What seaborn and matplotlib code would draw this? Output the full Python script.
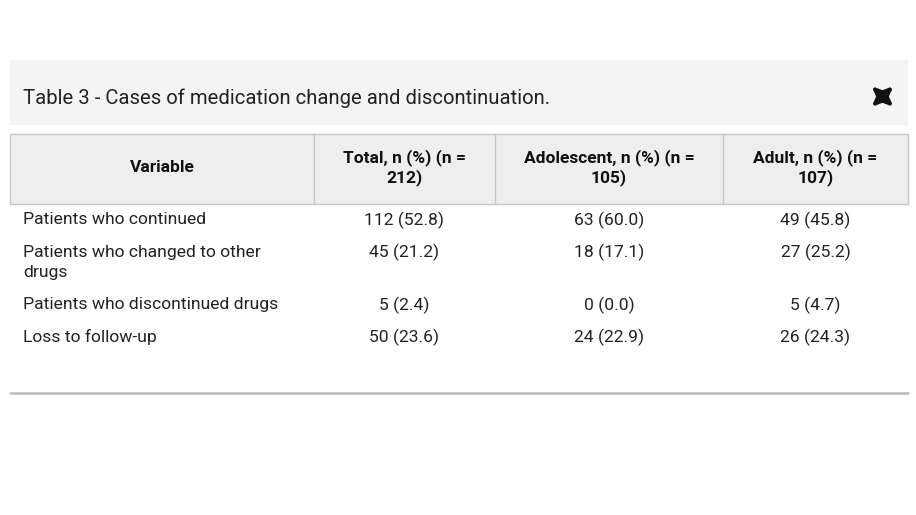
import matplotlib
matplotlib.use("Agg")
import matplotlib.pyplot as plt
import matplotlib.patches as mpatches
import seaborn as sns

sns.set_theme(style="white")
plt.rcParams["font.family"] = ["Roboto", "DejaVu Sans"]

TITLE = "Table 3 - Cases of medication change and discontinuation."
HEADERS = ["Variable", "Total, n (%) (n =\n212)", "Adolescent, n (%) (n =\n105)", "Adult, n (%) (n =\n107)"]
VARIABLES = ["Patients who continued", "Patients who changed to other\ndrugs",
             "Patients who discontinued drugs", "Loss to follow-up"]
TOTAL = ["112 (52.8)", "45 (21.2)", "5 (2.4)", "50 (23.6)"]
ADOLESCENT = ["63 (60.0)", "18 (17.1)", "0 (0.0)", "24 (22.9)"]
ADULT = ["49 (45.8)", "27 (25.2)", "5 (4.7)", "26 (24.3)"]

# layout in pixel units
COL_EDGES = [10, 314, 495, 723, 908]
ROW_Y = [220, 252, 305, 337]
LINE_GAP = 20
TEXT_C = "#222222"
BODY_FS = 12.6

fig = plt.figure(figsize=(9.16, 5.15), dpi=100)
ax = fig.add_axes([0, 0, 1, 1])
ax.set_xlim(0, 916)
ax.set_ylim(515, 0)
ax.axis("off")

# title band
ax.add_patch(mpatches.Rectangle((10, 60), 898, 65, facecolor="#f4f4f4", edgecolor="none"))
ax.text(23, 98, TITLE, fontsize=14.6, color=TEXT_C, va="center", ha="left")

# expand icon: four arrows pointing to the corners
cx, cy = 882.5, 96.5
for dx, dy in [(-11, -10.5), (11, -10.5), (-11, 10.5), (11, 10.5)]:
    ax.annotate("", xy=(cx + dx, cy + dy), xytext=(cx, cy),
                arrowprops=dict(arrowstyle="-|>,head_length=0.5,head_width=0.21",
                                color="#111111", lw=2.8, shrinkA=0, shrinkB=0,
                                mutation_scale=10))

# header row
ax.add_patch(mpatches.Rectangle((10, 134), 898, 70, facecolor="#eeeeee",
                                edgecolor="#c6c6c6", lw=1))
for x in COL_EDGES[1:-1]:
    ax.plot([x, x], [134, 204], color="#c6c6c6", lw=1)
for i, h in enumerate(HEADERS):
    hx = (COL_EDGES[i] + COL_EDGES[i + 1]) / 2
    for k, line in enumerate(h.split("\n")):
        hy = 168 if "\n" not in h else 158 + k * LINE_GAP
        ax.text(hx, hy, line, fontsize=12.5, fontweight="bold", color="#111111",
                ha="center", va="center")

# body rows
for i, var in enumerate(VARIABLES):
    y = ROW_Y[i]
    for k, line in enumerate(var.split("\n")):
        ax.text(23, y + k * LINE_GAP, line, fontsize=BODY_FS, color=TEXT_C,
                ha="left", va="center")
    for j, col in enumerate([TOTAL, ADOLESCENT, ADULT]):
        vx = (COL_EDGES[j + 1] + COL_EDGES[j + 2]) / 2
        ax.text(vx, y, col[i], fontsize=BODY_FS, color=TEXT_C, ha="center", va="center")

# bottom rule
ax.plot([10, 908], [393, 393], color="#bbbbbb", lw=1.8)

fig.savefig("out.png", dpi=100, facecolor="white")
